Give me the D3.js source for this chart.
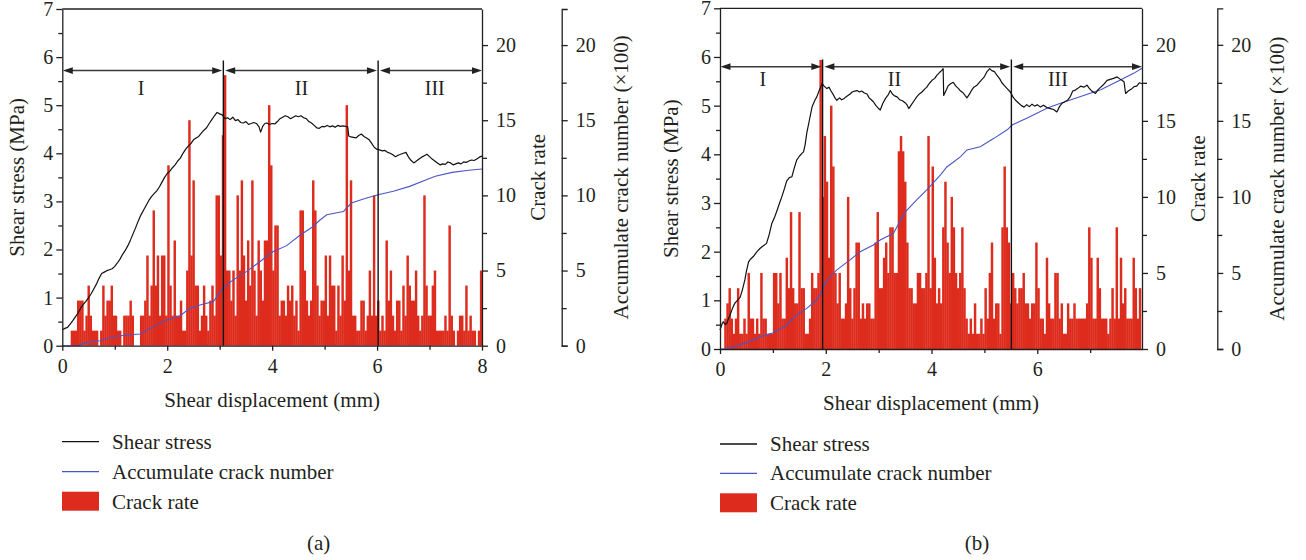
<!DOCTYPE html>
<html>
<head>
<meta charset="utf-8">
<script src="https://cdn.jsdelivr.net/npm/d3@7"></script>
<style>
  body { margin: 0; background: #fff; }
  svg text { font-family: "Liberation Serif", "Times New Roman", serif; fill: #231f20; }
</style>
</head>
<body>
<svg id="chart" width="1306" height="560"></svg>
<script>
// ---- data ----
// crack rate: one value per 0.04 mm of shear displacement
const BIN = 0.04;

const rateA = [
  0,0,0,0,1,1,1,3,3,3,1,2,4,2,1,1,1,0,1,4,2,3,3,4,2,
  2,1,1,0,2,2,2,3,2,0,0,0,2,2,3,6,2,4,9,4,6,2,6,6,2,
  12,4,2,7,2,2,3,1,1,5,15,6,11,4,4,1,2,4,2,1,3,4,2,10,10,
  6,14,18,5,5,3,5,2,10,5,11,6,3,7,4,11,5,2,7,5,3,7,7,16,12,
  5,8,8,2,3,3,2,4,3,4,2,3,1,9,9,5,3,2,3,11,9,4,2,3,3,
  6,2,6,4,4,1,4,2,6,3,16,5,11,2,2,1,1,3,3,1,2,5,2,10,2,
  3,1,2,1,7,3,5,2,1,3,3,1,4,2,6,4,3,3,5,2,1,2,10,4,2,
  2,4,5,1,1,1,1,2,1,8,2,1,0,1,2,2,1,4,1,2,1,1,0,1,5
];

const rateB = [
  0,0,2,3,4,2,1,2,4,1,1,2,1,5,2,2,1,2,1,5,2,2,1,1,1,
  5,5,3,5,2,2,6,4,9,4,3,3,9,4,4,1,1,2,5,4,4,5,19,10,14,
  11,6,16,12,5,3,5,2,2,3,10,4,2,4,7,7,2,3,2,3,3,2,2,7,9,
  4,4,6,7,5,8,8,5,5,13,14,13,11,7,4,4,3,3,5,5,4,4,5,14,4,
  12,6,3,4,3,8,11,7,5,10,8,5,4,5,8,4,2,1,2,1,3,1,1,2,1,
  4,2,5,7,2,3,3,1,8,12,8,7,3,5,4,3,4,4,5,3,3,2,3,3,7,
  4,2,2,1,6,3,2,2,5,5,2,3,1,1,3,2,2,3,2,2,2,2,2,3,8,
  6,2,2,6,4,2,2,2,1,2,4,2,8,2,6,3,4,2,2,2,6,4,2,4
];

// shear stress (MPa) vs displacement (mm)
const stressA = [
  [0,0.33],[0.05,0.36],[0.1,0.38],[0.15,0.45],[0.2,0.52],[0.25,0.6],[0.3,0.68],[0.35,0.78],
  [0.4,0.86],[0.45,0.92],[0.5,1.0],[0.55,1.08],[0.6,1.18],[0.65,1.28],[0.7,1.4],[0.75,1.5],
  [0.8,1.53],[0.85,1.56],[0.9,1.58],[0.95,1.6],[1.0,1.65],[1.05,1.72],[1.1,1.8],[1.15,1.9],
  [1.2,1.98],[1.25,2.08],[1.3,2.2],[1.35,2.33],[1.4,2.46],[1.45,2.6],[1.5,2.72],[1.55,2.82],
  [1.6,2.92],[1.65,3.02],[1.7,3.1],[1.75,3.16],[1.8,3.22],[1.85,3.3],[1.9,3.4],[1.95,3.5],
  [2.0,3.58],[2.05,3.63],[2.1,3.7],[2.15,3.76],[2.2,3.84],[2.25,3.9],[2.3,4.0],[2.35,4.08],
  [2.4,4.15],[2.45,4.2],[2.5,4.28],[2.55,4.32],[2.6,4.35],[2.65,4.42],[2.7,4.48],[2.75,4.53],
  [2.8,4.62],[2.85,4.7],[2.9,4.78],[2.95,4.85],[3.0,4.82],[3.05,4.8],[3.1,4.72],[3.15,4.74],
  [3.2,4.7],[3.25,4.75],[3.3,4.68],[3.35,4.7],[3.4,4.64],[3.45,4.63],[3.5,4.66],[3.55,4.6],
  [3.6,4.62],[3.65,4.64],[3.7,4.62],[3.75,4.55],[3.78,4.44],[3.82,4.56],[3.86,4.62],[3.9,4.63],
  [3.95,4.6],[4.0,4.62],[4.05,4.61],[4.1,4.66],[4.15,4.72],[4.2,4.75],[4.25,4.78],[4.3,4.76],
  [4.35,4.72],[4.4,4.75],[4.45,4.78],[4.5,4.76],[4.55,4.78],[4.6,4.74],[4.65,4.72],[4.7,4.66],
  [4.75,4.63],[4.8,4.58],[4.85,4.53],[4.9,4.52],[4.95,4.56],[5.0,4.55],[5.05,4.58],[5.1,4.55],
  [5.15,4.57],[5.2,4.54],[5.25,4.58],[5.3,4.56],[5.35,4.57],[5.4,4.56],[5.44,4.55],[5.46,4.36],
  [5.5,4.34],[5.55,4.33],[5.6,4.32],[5.65,4.37],[5.7,4.4],[5.75,4.35],[5.8,4.32],[5.85,4.28],
  [5.9,4.2],[5.95,4.12],[6.0,4.08],[6.05,4.07],[6.1,4.05],[6.15,4.06],[6.2,4.02],[6.25,4.0],
  [6.3,3.97],[6.35,3.93],[6.4,3.96],[6.45,3.98],[6.5,4.0],[6.55,4.02],[6.6,3.92],[6.65,3.85],
  [6.7,3.8],[6.75,3.84],[6.8,3.88],[6.85,3.92],[6.9,3.95],[6.95,3.98],[7.0,3.93],[7.05,3.88],
  [7.1,3.84],[7.15,3.8],[7.2,3.76],[7.25,3.78],[7.3,3.77],[7.35,3.82],[7.4,3.8],[7.45,3.76],
  [7.5,3.78],[7.55,3.8],[7.6,3.78],[7.65,3.82],[7.7,3.81],[7.75,3.84],[7.8,3.86],[7.85,3.85],
  [7.9,3.88],[7.95,3.92],[8.0,3.94]
];

const stressB = [
  [0,0.39],[0.04,0.52],[0.06,0.56],[0.1,0.5],[0.13,0.53],[0.16,0.62],[0.19,0.7],[0.23,0.82],
  [0.28,0.94],[0.33,1.0],[0.38,1.06],[0.42,1.2],[0.47,1.42],[0.5,1.6],[0.54,1.79],[0.58,1.85],
  [0.63,1.9],[0.7,2.0],[0.76,2.07],[0.82,2.12],[0.88,2.17],[0.93,2.35],[0.98,2.58],[1.03,2.7],
  [1.07,2.82],[1.12,2.98],[1.17,3.13],[1.22,3.3],[1.26,3.45],[1.31,3.52],[1.36,3.54],[1.4,3.7],
  [1.45,3.88],[1.5,3.96],[1.55,4.02],[1.58,4.05],[1.61,4.2],[1.64,4.43],[1.69,4.7],[1.74,4.97],
  [1.79,5.1],[1.83,5.18],[1.88,5.32],[1.93,5.45],[1.97,5.4],[2.02,5.35],[2.06,5.38],[2.1,5.3],
  [2.15,5.21],[2.18,5.15],[2.21,5.11],[2.26,5.16],[2.3,5.12],[2.34,5.14],[2.38,5.18],[2.42,5.21],
  [2.46,5.24],[2.5,5.28],[2.55,5.3],[2.59,5.31],[2.64,5.28],[2.68,5.3],[2.73,5.26],[2.78,5.24],
  [2.82,5.16],[2.86,5.12],[2.9,5.08],[2.95,5.0],[3.0,4.94],[3.03,4.91],[3.08,5.05],[3.13,5.15],
  [3.18,5.22],[3.22,5.31],[3.26,5.24],[3.3,5.2],[3.35,5.18],[3.4,5.12],[3.45,5.1],[3.5,5.06],
  [3.54,5.01],[3.57,4.94],[3.62,5.02],[3.67,5.1],[3.72,5.18],[3.77,5.24],[3.82,5.28],[3.87,5.34],
  [3.91,5.38],[3.96,5.46],[4.01,5.52],[4.06,5.56],[4.1,5.62],[4.15,5.68],[4.19,5.72],[4.22,5.76],
  [4.23,5.21],[4.27,5.3],[4.31,5.4],[4.36,5.45],[4.41,5.48],[4.46,5.4],[4.51,5.35],[4.55,5.3],
  [4.6,5.26],[4.64,5.2],[4.67,5.16],[4.72,5.24],[4.76,5.32],[4.8,5.38],[4.86,5.42],[4.92,5.5],
  [4.99,5.58],[5.05,5.7],[5.1,5.76],[5.14,5.72],[5.19,5.7],[5.24,5.62],[5.29,5.55],[5.33,5.47],
  [5.37,5.42],[5.43,5.35],[5.49,5.28],[5.54,5.18],[5.59,5.11],[5.64,5.06],[5.7,5.0],[5.75,4.97],
  [5.8,5.02],[5.85,4.98],[5.9,5.03],[5.95,4.99],[6.0,5.02],[6.06,4.97],[6.12,5.01],[6.18,4.96],
  [6.25,4.94],[6.31,4.92],[6.37,4.87],[6.42,4.98],[6.47,5.05],[6.52,5.08],[6.57,5.11],[6.62,5.18],
  [6.67,5.3],[6.72,5.32],[6.76,5.35],[6.82,5.4],[6.88,5.38],[6.94,5.42],[6.98,5.36],[7.03,5.3],
  [7.1,5.25],[7.15,5.33],[7.2,5.38],[7.26,5.44],[7.32,5.52],[7.38,5.54],[7.44,5.56],[7.51,5.59],
  [7.56,5.55],[7.6,5.52],[7.64,5.49],[7.67,5.25],[7.72,5.3],[7.78,5.34],[7.83,5.39],[7.88,5.4],
  [7.93,5.47],[7.98,5.45]
];

// accumulated crack number (x100) vs displacement (mm)
const accumA = [
  [0,0],[0.3,0],[0.46,0.22],[0.72,0.33],[0.97,0.6],[1.23,0.71],[1.48,0.78],[1.6,1.0],
  [1.73,1.27],[1.99,1.71],[2.24,1.98],[2.43,2.49],[2.69,2.78],[2.88,2.93],[3.07,3.89],[3.26,4.38],
  [3.51,4.93],[3.77,5.6],[4.02,6.27],[4.27,6.64],[4.53,7.35],[4.78,7.93],[4.9,8.33],[5.04,8.71],
  [5.36,8.93],[5.51,9.49],[5.8,9.82],[6.02,10.04],[6.31,10.27],[6.62,10.6],[6.94,11.04],[7.11,11.27],
  [7.43,11.53],[7.75,11.67],[8.0,11.76]
];

const accumB = [
  [0,0],[0.1,0.02],[0.25,0.15],[0.51,0.42],[0.76,0.81],[1.01,1.07],[1.26,1.58],[1.45,2.24],
  [1.64,2.67],[1.83,3.22],[1.89,3.55],[2.02,4.54],[2.21,5.2],[2.46,5.86],[2.65,6.4],[2.9,6.84],
  [3.03,7.17],[3.28,7.61],[3.5,9.0],[3.72,9.8],[3.91,10.46],[4.17,11.45],[4.29,11.97],[4.55,12.65],
  [4.67,13.09],[4.92,13.3],[5.18,13.85],[5.43,14.41],[5.53,14.74],[5.81,15.18],[6.19,15.84],[6.44,16.16],
  [6.82,16.6],[7.2,17.04],[7.58,17.7],[7.83,18.14],[7.98,18.46]
];

// stage boundaries (mm) and stage names
const boundsA = [3.07, 6.02];
const boundsB = [1.94, 5.51];
const stageNames = ["I", "II", "III"];

// axis ticks
const stressTicks = [0, 1, 2, 3, 4, 5, 6, 7];
const stressMinor = [0.5, 1.5, 2.5, 3.5, 4.5, 5.5, 6.5];
const rateTicks = [0, 5, 10, 15, 20];
const rateMinor = [2.5, 7.5, 12.5, 17.5];
const xTicksA = [0, 2, 4, 6, 8];
const xTicksB = [0, 2, 4, 6];
const xMinor = [1, 3, 5, 7];

const legendItems = ["Shear stress", "Accumulate crack number", "Crack rate"];

// ---- drawing ----
const RED = "#dd2c1d";
const BLUE = "#4a55c6";
const INK = "#231f20";
const fmt = d3.format("d");

const svg = d3.select("#chart");

const panels = [
  { left: 62.3, right: 482, top: 9, bottom: 345.7, accX: 561.7, xMax: 8, xTicks: xTicksA,
    rate: rateA, stress: stressA, accum: accumA, bounds: boundsA,
    arrowAt: 5.72, boundTop: 5.93, stageX: [1.5, 4.56, 7.1], stageY: 94.5,
    leftTitleX: 23.5, legendX: 62, legendY: [441.7, 471.7, 501.7], capX: 318.6, label: "(a)" },
  { left: 720, right: 1142, top: 8.3, bottom: 349, accX: 1217.3, xMax: 7.98, xTicks: xTicksB,
    rate: rateB, stress: stressB, accum: accumB, bounds: boundsB,
    arrowAt: 5.8, boundTop: 5.95, stageX: [0.81, 3.3, 6.39], stageY: 86,
    leftTitleX: 678, legendX: 720, legendY: [444, 473.3, 503.3], capX: 977, label: "(b)" }
];

function styleAxis(sel, fontSize) {
  sel.selectAll("path, line").attr("stroke", INK).attr("stroke-width", 1.3);
  sel.selectAll("text").attr("fill", INK).style("font-size", fontSize + "px")
    .style("font-family", '"Liberation Serif", "Times New Roman", serif');
}

function drawPanel(p) {
  const g = svg.append("g");
  const x = d3.scaleLinear().domain([0, p.xMax]).range([p.left, p.right]);
  const yS = d3.scaleLinear().domain([0, 7]).range([p.bottom, p.top]);
  const yR = d3.scaleLinear().domain([0, 22.4]).range([p.bottom, p.top]);
  const midY = (p.top + p.bottom) / 2;

  // crack rate bars (slight overlap so neighbours merge like the original fill)
  g.append("g").selectAll("rect")
    .data(p.rate.map((v, i) => ({ x0: i * BIN, v })).filter(d => d.v > 0))
    .join("rect")
    .attr("x", d => x(d.x0))
    .attr("width", x(BIN) - x(0) + 0.35)
    .attr("y", d => yR(d.v))
    .attr("height", d => p.bottom - yR(d.v))
    .attr("fill", RED);

  // accumulated crack number
  g.append("path").datum(p.accum)
    .attr("fill", "none").attr("stroke", BLUE).attr("stroke-width", 1.1)
    .attr("d", d3.line().x(d => x(d[0])).y(d => yR(d[1])));

  // shear stress
  g.append("path").datum(p.stress)
    .attr("fill", "none").attr("stroke", "#111").attr("stroke-width", 1.2)
    .attr("stroke-linejoin", "round")
    .attr("d", d3.line().x(d => x(d[0])).y(d => yS(d[1])));

  // stage boundaries
  g.selectAll(".bound").data(p.bounds).join("line")
    .attr("x1", d => x(d)).attr("x2", d => x(d))
    .attr("y1", yS(p.boundTop)).attr("y2", p.bottom)
    .attr("stroke", "#111").attr("stroke-width", 1.4);

  // stage arrows
  const edges = [0, ...p.bounds, p.xMax];
  const ay = yS(p.arrowAt);
  const segs = d3.range(3).map(i => ({
    a: x(edges[i]) + (i === 0 ? 0.5 : 1.8),
    b: x(edges[i + 1]) - (i === 2 ? 0 : 1.2)
  }));
  const ag = g.append("g");
  segs.forEach(s => {
    ag.append("line").attr("x1", s.a + 4).attr("x2", s.b - 4)
      .attr("y1", ay).attr("y2", ay).attr("stroke", "#3a3a3a").attr("stroke-width", 1.6);
    ag.append("path").attr("d", `M${s.a},${ay}L${s.a + 10},${ay - 3.4}L${s.a + 10},${ay + 3.4}Z`).attr("fill", "#222");
    ag.append("path").attr("d", `M${s.b},${ay}L${s.b - 10},${ay - 3.4}L${s.b - 10},${ay + 3.4}Z`).attr("fill", "#222");
  });
  g.selectAll(".stage").data(stageNames).join("text")
    .attr("x", (d, i) => x(p.stageX[i])).attr("y", p.stageY)
    .attr("text-anchor", "middle").style("font-size", "20px").text(d => d);

  // top frame
  g.append("line").attr("x1", p.left).attr("x2", p.right)
    .attr("y1", p.top).attr("y2", p.top).attr("stroke", INK).attr("stroke-width", 1.3);

  // left axis
  const la = g.append("g").attr("transform", `translate(${p.left},0)`)
    .call(d3.axisLeft(yS).tickValues(stressTicks).tickFormat(fmt).tickSize(6).tickSizeOuter(0).tickPadding(3));
  styleAxis(la, 20);
  const lm = g.append("g").attr("transform", `translate(${p.left},0)`)
    .call(d3.axisLeft(yS).tickValues(stressMinor).tickSize(4).tickFormat(""));
  lm.select(".domain").remove();
  styleAxis(lm, 20);

  // bottom axis
  const ba = g.append("g").attr("transform", `translate(0,${p.bottom})`)
    .call(d3.axisBottom(x).tickValues(p.xTicks).tickFormat(fmt).tickSize(5).tickSizeOuter(0).tickPadding(8));
  styleAxis(ba, 20);
  const bm = g.append("g").attr("transform", `translate(0,${p.bottom})`)
    .call(d3.axisBottom(x).tickValues(xMinor).tickSize(4).tickFormat(""));
  bm.select(".domain").remove();
  styleAxis(bm, 20);

  // crack rate axis
  const ra = g.append("g").attr("transform", `translate(${p.right},0)`)
    .call(d3.axisRight(yR).tickValues(rateTicks).tickFormat(fmt).tickSize(6).tickSizeOuter(0).tickPadding(8));
  styleAxis(ra, 20);
  const rm = g.append("g").attr("transform", `translate(${p.right},0)`)
    .call(d3.axisRight(yR).tickValues(rateMinor).tickSize(5).tickFormat(""));
  rm.select(".domain").remove();
  styleAxis(rm, 20);

  // accumulated crack number axis
  const ca = g.append("g").attr("transform", `translate(${p.accX},0)`)
    .call(d3.axisRight(yR).tickValues(rateTicks).tickFormat(fmt).tickSize(6).tickSizeOuter(6).tickPadding(8));
  styleAxis(ca, 20);
  const cm = g.append("g").attr("transform", `translate(${p.accX},0)`)
    .call(d3.axisRight(yR).tickValues(rateMinor).tickSize(5).tickFormat(""));
  cm.select(".domain").remove();
  styleAxis(cm, 20);

  // axis titles
  g.append("text").attr("transform", `translate(${p.leftTitleX},${midY}) rotate(-90)`)
    .attr("text-anchor", "middle").style("font-size", "21px").text("Shear stress (MPa)");
  g.append("text").attr("transform", `translate(${p.right + 63},${midY}) rotate(-90)`)
    .attr("text-anchor", "middle").style("font-size", "21px").text("Crack rate");
  g.append("text").attr("transform", `translate(${p.accX + 66.5},${midY}) rotate(-90)`)
    .attr("text-anchor", "middle").style("font-size", "21px").text("Accumulate crack number (×100)");
  g.append("text").attr("x", (p.left + p.right) / 2).attr("y", p.bottom + 61)
    .attr("text-anchor", "middle").style("font-size", "21px").text("Shear displacement (mm)");

  // legend
  const lg = g.append("g");
  lg.append("line").attr("x1", p.legendX).attr("x2", p.legendX + 37)
    .attr("y1", p.legendY[0]).attr("y2", p.legendY[0]).attr("stroke", "#111").attr("stroke-width", 1.3);
  lg.append("line").attr("x1", p.legendX).attr("x2", p.legendX + 37)
    .attr("y1", p.legendY[1]).attr("y2", p.legendY[1]).attr("stroke", BLUE).attr("stroke-width", 1.3);
  lg.append("rect").attr("x", p.legendX).attr("width", 37)
    .attr("y", p.legendY[2] - 10).attr("height", 19).attr("fill", RED);
  lg.selectAll("text").data(legendItems).join("text")
    .attr("x", p.legendX + 50).attr("y", (d, i) => p.legendY[i]).attr("dy", "0.33em")
    .style("font-size", "21px").text(d => d);

  // caption
  g.append("text").attr("x", p.capX).attr("y", 543).attr("dy", "0.33em")
    .attr("text-anchor", "middle").style("font-size", "21px").text(p.label);
}

panels.forEach(drawPanel);
</script>
</body>
</html>
